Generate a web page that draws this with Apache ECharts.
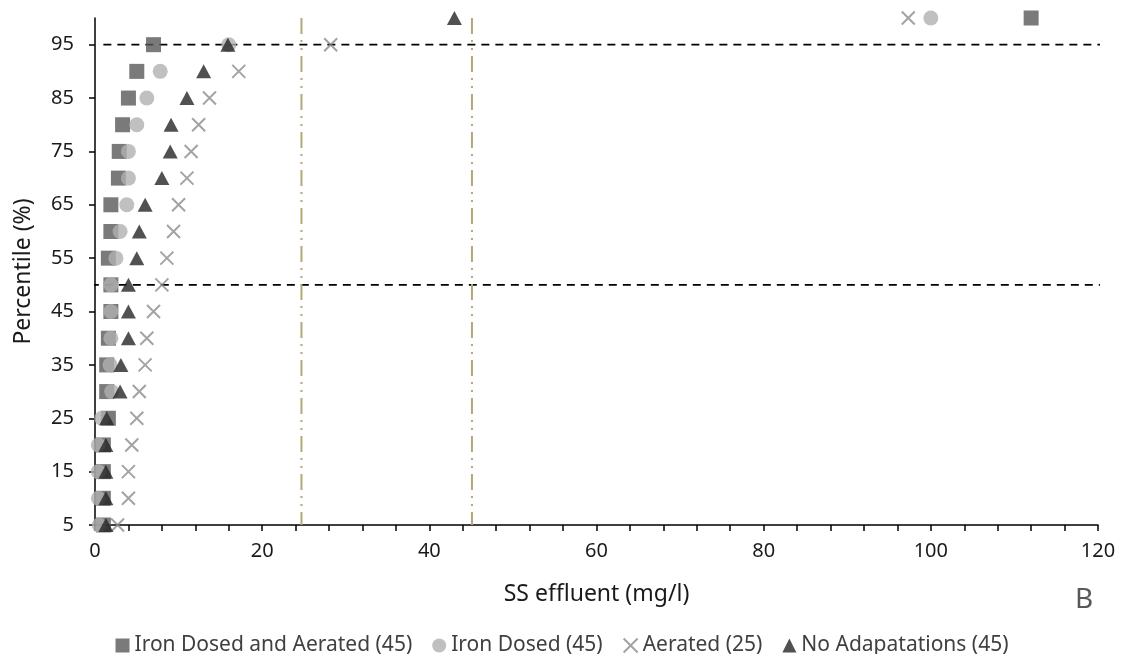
<!DOCTYPE html>
<html>
<head>
<meta charset="utf-8">
<title>SS effluent percentiles</title>
<script src="https://cdn.jsdelivr.net/npm/echarts@6/dist/echarts.min.js"></script>
<style>
  html, body { margin: 0; padding: 0; background: #fff; }
  #chart { width: 1124px; height: 654px; }
</style>
</head>
<body>
<div id="chart"></div>
<script>
// percentiles on the y axis, one point per percentile for each series
const percentiles = [5, 10, 15, 20, 25, 30, 35, 40, 45, 50, 55, 60, 65, 70, 75, 80, 85, 90, 95, 100];
const yTickValues = [5, 15, 25, 35, 45, 55, 65, 75, 85, 95];

// SS effluent (mg/l)
const ironDosedAerated = [1.0, 1.0, 1.0, 1.0, 1.6, 1.4, 1.4, 1.6, 1.9, 1.9, 1.6, 1.9, 1.9, 2.8, 2.9, 3.3, 4.0, 5.0, 7.0, 112];
const ironDosed = [0.5, 0.4, 0.4, 0.4, 0.8, 2.0, 1.8, 1.9, 1.9, 1.9, 2.5, 3.0, 3.8, 4.0, 4.0, 5.0, 6.2, 7.8, 16.0, 100];
const aerated = [2.7, 4.0, 4.0, 4.4, 5.0, 5.3, 6.0, 6.2, 7.0, 8.0, 8.6, 9.4, 10.0, 11.0, 11.5, 12.4, 13.7, 17.2, 28.2, 97.3];
const noAdaptations = [1.3, 1.3, 1.3, 1.3, 1.4, 3.0, 3.1, 4.0, 4.0, 4.0, 5.0, 5.3, 6.0, 8.0, 9.0, 9.1, 11.0, 13.0, 15.9, 43];

// reference lines (dashed percentile lines, dash-dot limits)
const p95Line = [[1, 95], [124, 95]];
const p50Line = [[-0.5, 50], [121.2, 50]];
const limitLow = [[24.7, 100], [24.7, 5]];
const limitHigh = [[45.1, 100], [45.1, 5]];

const seriesNames = ['Iron Dosed and Aerated (45)', 'Iron Dosed (45)', 'Aerated (25)', 'No Adapatations (45)'];

(function () {
  const FONT = "'Noto Sans', sans-serif";
  const crossPath = 'path://M0,0 L10,10 M10,0 L0,10';

  const toPoints = vals => vals.map((v, i) => [v, percentiles[i]]);

  const refLine = (name, data, color, width, dash) => ({
    name: name,
    type: 'line',
    data: data,
    symbol: 'none',
    clip: false,
    silent: true,
    z: 1,
    lineStyle: { color: color, width: width, type: dash }
  });

  const chart = echarts.init(document.getElementById('chart'), null, { renderer: 'canvas' });

  const option = {
    animation: false,
    textStyle: { fontFamily: FONT },
    grid: { left: 95, right: 26, top: 18, bottom: 129, containLabel: false, outerBoundsMode: 'none' },
    xAxis: {
      type: 'value',
      min: 0,
      max: 120,
      interval: 20,
      name: 'SS effluent (mg/l)',
      nameLocation: 'middle',
      nameGap: 58,
      nameTextStyle: { fontSize: 23, color: '#1a1a1a', fontFamily: FONT },
      axisLine: { show: true, onZero: false, lineStyle: { color: '#000', width: 1.5 } },
      axisTick: { show: true, inside: false, length: 6, lineStyle: { color: '#000', width: 1.5 } },
      minorTick: { show: true, splitNumber: 5, length: 6, lineStyle: { color: '#000', width: 1.5 } },
      axisLabel: { fontSize: 20, color: '#1a1a1a', margin: 16, fontFamily: FONT },
      splitLine: { show: false }
    },
    yAxis: {
      type: 'value',
      min: 5,
      max: 100,
      name: 'Percentile (%)',
      nameLocation: 'middle',
      nameGap: 60,
      nameRotate: 90,
      nameTextStyle: { fontSize: 23, color: '#1a1a1a', fontFamily: FONT },
      axisLine: { show: true, onZero: false, lineStyle: { color: '#000', width: 1.5 } },
      axisTick: { show: true, inside: false, length: 6, customValues: yTickValues, lineStyle: { color: '#000', width: 1.5 } },
      axisLabel: { fontSize: 20, color: '#1a1a1a', margin: 21, customValues: yTickValues, fontFamily: FONT },
      splitLine: { show: false }
    },
    legend: {
      data: seriesNames,
      top: 630,
      left: 'center',
      itemWidth: 14,
      itemHeight: 14,
      itemGap: 20,
      textStyle: { fontSize: 21, color: '#404040', fontFamily: FONT }
    },
    graphic: [{
      type: 'text',
      left: 1075,
      top: 586,
      style: { text: 'B', fontSize: 28, fill: '#595959', fontFamily: FONT }
    }],
    series: [
      refLine('p95', p95Line, '#000', 1.8, [8, 6]),
      refLine('p50', p50Line, '#000', 1.8, [8, 6]),
      refLine('lim25', limitLow, '#B3A877', 2, [16, 6, 2, 6, 2, 6]),
      refLine('lim45', limitHigh, '#B3A877', 2, [16, 6, 2, 6, 2, 6]),
      {
        name: seriesNames[0],
        type: 'scatter',
        data: toPoints(ironDosedAerated),
        symbol: 'rect',
        symbolSize: 15,
        z: 2,
        itemStyle: { color: '#595959' }
      },
      {
        name: seriesNames[1],
        type: 'scatter',
        data: toPoints(ironDosed),
        symbol: 'circle',
        symbolSize: 15,
        z: 3,
        itemStyle: { color: '#B0B0B0' }
      },
      {
        name: seriesNames[2],
        type: 'scatter',
        data: toPoints(aerated),
        symbol: crossPath,
        symbolSize: 13,
        z: 4,
        itemStyle: { color: 'rgba(0,0,0,0)', borderColor: '#8C8C8C', borderWidth: 2 }
      },
      {
        name: seriesNames[3],
        type: 'scatter',
        data: toPoints(noAdaptations),
        symbol: 'triangle',
        symbolSize: [15, 14],
        z: 5,
        itemStyle: { color: '#262626' }
      }
    ]
  };

  chart.setOption(option);
})();
</script>
</body>
</html>
